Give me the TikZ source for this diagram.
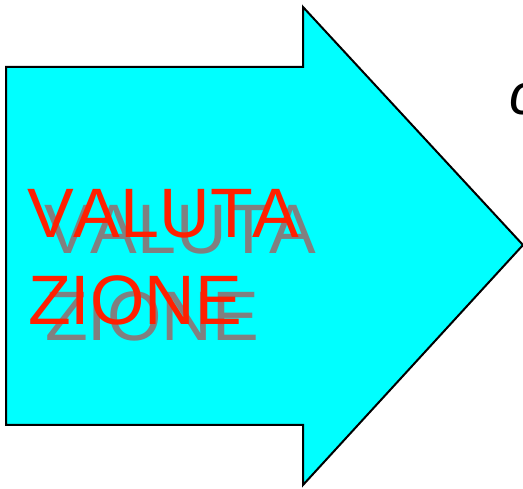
\documentclass[tikz,border=0pt]{standalone}
\usepackage{fontspec}
\setmainfont[Kerning=Off]{Liberation Sans}
\definecolor{arrowcyan}{RGB}{0,255,255}
\definecolor{textred}{RGB}{255,32,0}
\definecolor{shadowgray}{RGB}{128,128,128}
\tikzset{
  word/.style={inner sep=0pt, anchor=base west, font=\fontsize{70}{84}\selectfont},
}
\begin{document}
\begin{tikzpicture}[x=1pt, y=-1pt]
   \useasboundingbox (0,0) rectangle (523,489);
   \begin{scope}
      \clip (0,0) rectangle (523,489);
      \draw[line width=2pt, fill=arrowcyan, line join=miter]
         (6,67) -- (303,67) -- (303,7) -- (523,245) -- (303,485) -- (303,425) -- (6,425) -- cycle;
      \node[word, text=shadowgray] (S1) at (44,254) {VALUTA};
      \node[word, text=shadowgray] (S2) at (45,341) {ZIONE};
      \node[word, text=textred] (W1) at (27,238) {VALUTA};
      \node[word, text=textred] (W2) at (28,325) {ZIONE};
      \node[inner sep=0pt, anchor=base west, font=\fontsize{58}{70}\selectfont\itshape] (C) at (509,115) {c};
   \end{scope}
\end{tikzpicture}
\end{document}
